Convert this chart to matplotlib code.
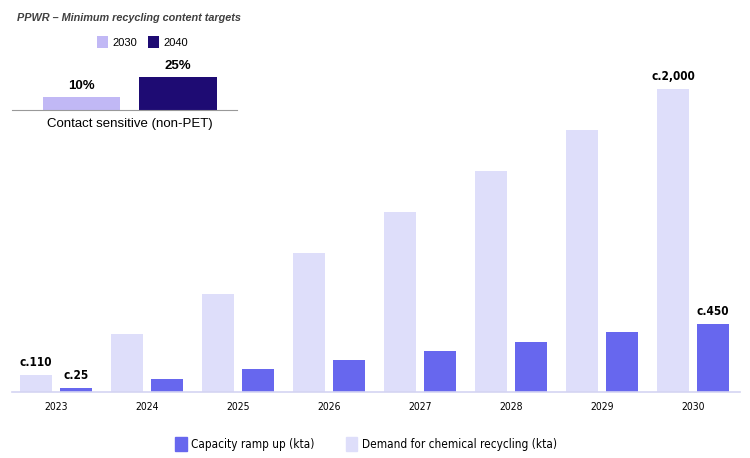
import matplotlib
matplotlib.use('Agg')
import matplotlib.pyplot as plt
from matplotlib.patches import Patch

years = ['2023', '2024', '2025', '2026', '2027', '2028', '2029', '2030']
demand = [110, 383, 647, 917, 1188, 1459, 1729, 2000]
capacity = [25, 86, 152, 211, 271, 330, 396, 450]
# only some bars carry a label in the original
demand_labels = {0: 'c.110', 7: 'c.2,000'}
capacity_labels = {0: 'c.25', 7: 'c.450'}

inset_groups = ['Contact sensitive (non-PET)']
target_2030 = [10]
target_2040 = [25]

DEMAND_C = '#dedefa'
CAP_C = '#6767ee'
T30_C = '#c1b8f5'
T40_C = '#1e0b73'
BASE_C = '#d4d4f2'

regular = ['Liberation Sans', 'DejaVu Sans']
narrow = dict(family='DejaVu Sans', stretch='condensed')

fig = plt.figure(figsize=(7.5, 4.58), dpi=100)

# main chart
ax = fig.add_axes([0.016, 0.1441, 0.971, 0.725])
x = list(range(len(years)))
w = 0.35
off = 0.22
ax.bar([i - off for i in x], demand, width=w, color=DEMAND_C, zorder=2)
ax.bar([i + off for i in x], capacity, width=w, color=CAP_C, zorder=2)
for i, t in demand_labels.items():
    ax.text(i - off, demand[i] + 40, t, ha='center', va='bottom',
            fontsize=8.5, fontweight='bold', **narrow)
for i, t in capacity_labels.items():
    ax.text(i + off, capacity[i] + 40, t, ha='center', va='bottom',
            fontsize=8.5, fontweight='bold', **narrow)
ax.set_xlim(-0.48, 7.52)
ax.set_ylim(0, 2190)
ax.set_xticks(x)
ax.set_xticklabels(years, fontsize=7.5, **narrow)
ax.tick_params(axis='x', length=0, pad=7)
ax.set_yticks([])
for s in ['top', 'right', 'left']:
    ax.spines[s].set_visible(False)
ax.spines['bottom'].set_color(BASE_C)
ax.spines['bottom'].set_linewidth(1.2)

handles = [Patch(color=CAP_C, label='Capacity ramp up (kta)'),
           Patch(color=DEMAND_C, label='Demand for chemical recycling (kta)')]
fig.legend(handles=handles, loc='center', bbox_to_anchor=(0.488, 0.031),
           ncol=2, frameon=False, handlelength=1.0, handleheight=1.5,
           handletextpad=0.4, columnspacing=2.6,
           prop={'family': 'DejaVu Sans', 'stretch': 'condensed', 'size': 8.5})

# inset with PPWR targets
ins = fig.add_axes([0.016, 0.7598, 0.3, 0.098])
ins.bar([-0.5], target_2030, width=0.8, color=T30_C, label='2030')
ins.bar([0.5], target_2040, width=0.8, color=T40_C, label='2040')
ins.text(-0.5, target_2030[0] + 3.5, f'{target_2030[0]}%', ha='center', va='bottom',
         fontsize=9.5, fontweight='bold', family=regular)
ins.text(0.5, target_2040[0] + 3.5, f'{target_2040[0]}%', ha='center', va='bottom',
         fontsize=9.5, fontweight='bold', family=regular)
ins.set_xlim(-1.22, 1.11)
ins.set_ylim(0, 34)
ins.set_xticks([0])
ins.set_xticklabels(inset_groups, family=regular, fontsize=9.5)
ins.tick_params(axis='x', length=0, pad=6)
ins.set_yticks([])
for s in ['top', 'right', 'left']:
    ins.spines[s].set_visible(False)
ins.spines['bottom'].set_color('#999999')

fig.text(0.0227, 0.961, 'PPWR \u2013 Minimum recycling content targets',
         fontsize=7.8, fontweight='bold', fontstyle='italic', color='#404040',
         family=regular, va='center')
ins.legend(loc='center', bbox_to_anchor=(0.19, 0.908), bbox_transform=fig.transFigure,
           ncol=2, frameon=False, handlelength=1.0, handleheight=1.2,
           handletextpad=0.4, columnspacing=1.0,
           prop={'family': regular, 'size': 8})

fig.savefig('out.png', dpi=100)
